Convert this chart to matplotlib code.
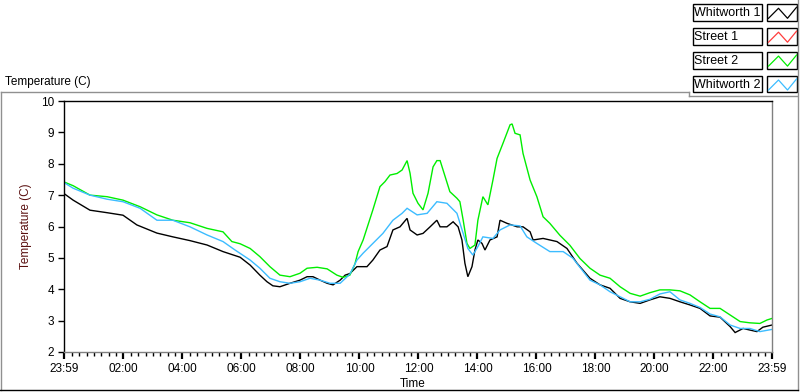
import matplotlib
matplotlib.use('Agg')
import matplotlib.pyplot as plt
from matplotlib.lines import Line2D
from matplotlib.patches import Rectangle
import numpy as np

plt.rcParams['font.family'] = ['Liberation Sans', 'DejaVu Sans']

# ---------------- data (hours since 23:59 start, temperature C) ----------------
w1_t = [0, 0.31, 0.88, 1.46, 2.00, 2.47, 3.15, 3.69, 4.27, 4.85, 5.39, 5.97, 6.31, 6.64, 6.88,
        7.08, 7.32, 7.66, 8.00, 8.24, 8.44, 8.68, 8.92, 9.12, 9.36, 9.53, 9.69, 9.93, 10.27,
        10.47, 10.71, 10.95, 11.15, 11.39, 11.63, 11.73, 11.97, 12.17, 12.41, 12.64, 12.75,
        12.98, 13.19, 13.36, 13.49, 13.59, 13.69, 13.83, 13.93, 14.03, 14.17, 14.27, 14.44,
        14.68, 14.78, 15.02, 15.36, 15.56, 15.80, 15.90, 16.24, 16.71, 17.05, 17.39, 17.83,
        18.17, 18.51, 18.85, 19.19, 19.53, 19.86, 20.20, 20.54, 20.88, 21.22, 21.56, 21.90,
        22.24, 22.58, 22.75, 23.02, 23.25, 23.49, 23.69, 24.00]
w1_v = [7.05, 6.84, 6.52, 6.44, 6.36, 6.05, 5.79, 5.67, 5.55, 5.41, 5.20, 5.02, 4.77, 4.45, 4.24,
        4.11, 4.08, 4.19, 4.29, 4.40, 4.40, 4.29, 4.19, 4.14, 4.29, 4.45, 4.50, 4.72, 4.72,
        4.93, 5.25, 5.36, 5.89, 5.99, 6.26, 5.89, 5.73, 5.78, 5.99, 6.20, 5.99,
        5.99, 6.15, 5.99, 5.57, 4.83, 4.40, 4.72, 5.25, 5.57, 5.46, 5.25, 5.57,
        5.67, 6.20, 6.10, 5.99, 5.99, 5.83, 5.57, 5.62, 5.52, 5.30, 4.83, 4.35,
        4.14, 4.03, 3.71, 3.60, 3.55, 3.66, 3.76, 3.71, 3.60, 3.50, 3.39, 3.15,
        3.11, 2.81, 2.62, 2.75, 2.70, 2.65, 2.79, 2.86]

s1_t = []   # Street 1: no data shown
s1_v = []

s2_t = [0, 0.31, 0.88, 1.46, 2.00, 2.58, 3.15, 3.69, 4.27, 4.85, 5.39, 5.69, 5.97, 6.31, 6.64,
        6.98, 7.32, 7.66, 8.00, 8.24, 8.58, 8.92, 9.25, 9.46, 9.69, 9.86, 9.97, 10.14, 10.47,
        10.71, 10.88, 11.05, 11.29, 11.46, 11.63, 11.73, 11.83, 12.00, 12.17, 12.34, 12.51,
        12.64, 12.75, 12.92, 13.08, 13.32, 13.42, 13.53, 13.66, 13.76, 13.93, 14.03, 14.20,
        14.37, 14.54, 14.68, 14.88, 15.12, 15.19, 15.29, 15.46, 15.56, 15.80, 16.03, 16.24,
        16.47, 16.81, 17.15, 17.49, 17.83, 18.17, 18.51, 18.85, 19.19, 19.53, 19.86, 20.20,
        20.54, 20.88, 21.22, 21.56, 21.90, 22.24, 22.58, 22.92, 23.25, 23.59, 23.83, 24.00]
s2_v = [7.42, 7.30, 7.00, 6.95, 6.84, 6.63, 6.37, 6.20, 6.12, 5.94, 5.83, 5.52, 5.45, 5.30, 5.04,
        4.72, 4.45, 4.40, 4.51, 4.67, 4.70, 4.65, 4.45, 4.38, 4.45, 4.80, 5.20, 5.57, 6.53,
        7.27, 7.43, 7.64, 7.69, 7.80, 8.10, 7.70, 7.06, 6.74, 6.53, 7.06, 7.90,
        8.10, 8.10, 7.59, 7.11, 6.90, 6.79, 6.21, 5.46, 5.30, 5.41, 6.20, 6.95,
        6.69, 7.48, 8.17, 8.65, 9.24, 9.27, 8.97, 8.92, 8.33, 7.48, 6.95, 6.31,
        6.10, 5.72, 5.40, 4.98, 4.67, 4.45, 4.35, 4.08, 3.87, 3.78, 3.89, 3.98,
        3.98, 3.95, 3.82, 3.60, 3.39, 3.39, 3.18, 2.97, 2.93, 2.91, 3.02, 3.07]

w2_t = [0, 0.31, 0.88, 1.46, 2.00, 2.58, 3.15, 3.69, 4.27, 4.85, 5.39, 5.80, 6.31, 6.64, 6.98,
        7.32, 7.66, 8.00, 8.34, 8.68, 9.02, 9.36, 9.69, 9.93, 10.14, 10.47, 10.81, 11.15,
        11.46, 11.63, 11.97, 12.31, 12.64, 12.98, 13.32, 13.53, 13.69, 13.86, 14.03, 14.20,
        14.54, 14.78, 15.12, 15.46, 15.69, 16.03, 16.47, 16.92, 17.25, 17.49, 17.83, 18.17,
        18.51, 18.85, 19.19, 19.53, 19.86, 20.20, 20.54, 20.88, 21.22, 21.56, 21.90, 22.24,
        22.58, 22.92, 23.25, 23.59, 24.00]
w2_v = [7.40, 7.22, 7.00, 6.87, 6.79, 6.58, 6.20, 6.20, 5.99, 5.73, 5.52, 5.25, 4.93, 4.67, 4.35,
        4.24, 4.19, 4.24, 4.35, 4.29, 4.19, 4.19, 4.48, 4.93, 5.15, 5.46, 5.78, 6.20,
        6.42, 6.58, 6.37, 6.42, 6.79, 6.74, 6.42, 5.78, 5.30, 5.09, 5.36, 5.67,
        5.62, 5.89, 6.05, 6.02, 5.67, 5.46, 5.20, 5.20, 4.99, 4.70, 4.29, 4.14,
        3.92, 3.76, 3.60, 3.60, 3.68, 3.85, 3.92, 3.66, 3.55, 3.42, 3.21, 3.12,
        2.86, 2.75, 2.75, 2.65, 2.72]

series_names = ['Whitworth 1', 'Street 1', 'Street 2', 'Whitworth 2']
series_colors = ['#000000', '#ff3c3c', '#00ee00', '#3cbcff']

x_tick_labels = ['23:59', '02:00', '04:00', '06:00', '08:00', '10:00', '12:00',
                 '14:00', '16:00', '18:00', '20:00', '22:00', '23:59']
y_ticks = [2, 3, 4, 5, 6, 7, 8, 9, 10]

# ---------------- figure ----------------
W, H = 800, 392
fig = plt.figure(figsize=(W / 100, H / 100), dpi=100)
fig.patch.set_facecolor('white')

def fx(x):
    return x / W

def fy(y):
    return 1 - y / H

ax = fig.add_axes([fx(64), fy(352), (772 - 64) / W, (352 - 101) / H])

data = [(w1_t, w1_v), (s1_t, s1_v), (s2_t, s2_v), (w2_t, w2_v)]
for (t, v), c in zip(data, series_colors):
    ax.plot(t, v, color=c, lw=1.0, solid_joinstyle='miter')

ax.set_xlim(0, 24)
ax.set_ylim(2, 10)

off = 1.0 / 60.0  # 23:59 start -> 02:00 is 2h01m later
major_x = [0] + [2 * k + off for k in range(1, 12)] + [24]
ax.set_xticks(major_x)
ax.set_xticklabels(x_tick_labels)
minor_x = [off + 0.25 * k for k in range(1, 96) if (k % 8) != 0]
ax.set_xticks(minor_x, minor=True)
ax.set_yticks(y_ticks)
ax.set_yticklabels([str(v) for v in y_ticks])

for s in ['left', 'top']:
    ax.spines[s].set_color('black')
    ax.spines[s].set_linewidth(1.0)
for s in ['right', 'bottom']:
    ax.spines[s].set_color('#808080')
    ax.spines[s].set_linewidth(1.0)

ax.tick_params(axis='y', direction='out', length=4, width=1, labelsize=8.5, pad=3, colors='black')
ax.tick_params(axis='x', which='major', direction='out', length=5, width=1.6, labelsize=8.5, pad=3)
ax.tick_params(axis='x', which='minor', direction='out', length=3, width=1)

ax.set_ylabel('Temperature (C)', fontsize=8.5, color='#5a1010')
ax.yaxis.set_label_coords((32 - 64) / 708, 0.5)

fig.text(fx(413), fy(384), 'Time', ha='center', va='center', fontsize=8.5)
fig.text(fx(5), fy(82), 'Temperature (C)', ha='left', va='center', fontsize=8.5)

# outer frame
gray = '#909090'
fig.add_artist(Line2D([fx(1), fx(689)], [fy(92), fy(92)], color=gray, lw=1))
fig.add_artist(Line2D([fx(689), fx(689)], [fy(92), fy(96)], color=gray, lw=1))
fig.add_artist(Line2D([fx(689), fx(797)], [fy(96), fy(96)], color=gray, lw=1))
fig.add_artist(Line2D([fx(1), fx(1)], [fy(92), fy(390)], color=gray, lw=1))
fig.add_artist(Line2D([fx(798), fx(798)], [fy(0), fy(390)], color=gray, lw=1))
fig.add_artist(Line2D([fx(0), fx(798)], [fy(390), fy(390)], color='black', lw=1))

# legend
for i, (name, c) in enumerate(zip(series_names, series_colors)):
    top = 4 + i * 23.9
    h = 16.7
    fig.add_artist(Rectangle((fx(692.5), fy(top + h)), (762 - 692.5) / W, h / H,
                             facecolor='white', edgecolor='black', lw=1))
    fig.text(fx(694.5), fy(top + h / 2 + 0.5), name, ha='left', va='center', fontsize=9)
    fig.add_artist(Rectangle((fx(767), fy(top + h)), (797 - 767) / W, h / H,
                             facecolor='white', edgecolor='black', lw=1))
    zx = [768.5, 778.5, 787.5, 796.5]
    zy = [top + 14.3, top + 4.3, top + 14.3, top + 3.3]
    fig.add_artist(Line2D([fx(v) for v in zx], [fy(v) for v in zy], color=c, lw=0.9))

fig.savefig('out.png', dpi=100, facecolor='white')
